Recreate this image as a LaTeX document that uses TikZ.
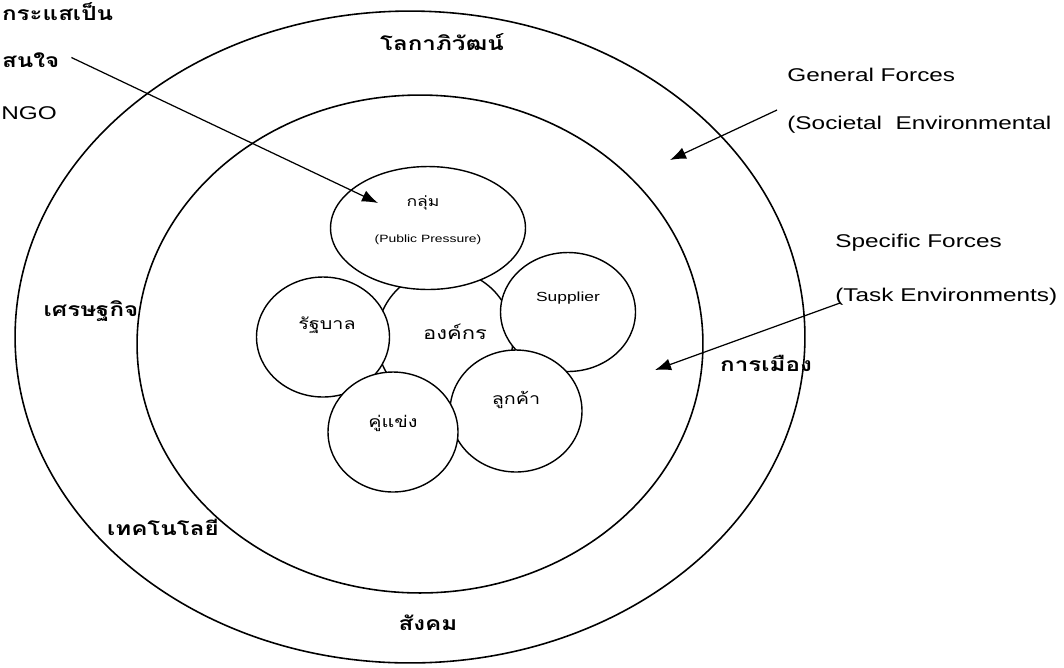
\documentclass[tikz,border=0pt]{standalone}
\usepackage{fontspec}
\setmainfont{Liberation Sans}[FakeStretch=1.32]
\newfontfamily\thaifont[Script=Thai, FakeStretch=1.25]{Loma}
\usetikzlibrary{shapes.geometric, arrows.meta, positioning}

\begin{document}
\begin{tikzpicture}[
  x=0.02cm, y=-0.02cm,
  ring/.style={ellipse, draw=black, line width=0.9pt, inner sep=0pt},
  party/.style={ellipse, draw=black, fill=white, line width=0.8pt, inner sep=0pt},
  force/.style={font=\thaifont\bfseries\fontsize{11}{13}\selectfont, inner sep=1pt},
  tag/.style={font=\thaifont\fontsize{9}{11}\selectfont, inner sep=1pt},
  note/.style={font=\fontsize{10.5}{12}\selectfont, anchor=west, inner sep=0pt},
  arrow/.style={draw, -{Latex[length=3.2mm, width=2.4mm]}, line width=0.7pt}
]
  \useasboundingbox (0,0) rectangle (1064,667);

  % environment rings
  \node [ring, minimum width=15.8cm, minimum height=13.04cm] (outer) at (410,337) {};
  \node [ring, minimum width=11.32cm, minimum height=9.96cm] (inner) at (420,344) {};

  % organisation and its stakeholders
  \node [party, minimum width=2.72cm, minimum height=2.72cm] (org) at (445,338) {};
  \node [party, minimum width=3.9cm, minimum height=2.46cm] (group) at (428,228) {};
  \node [party, minimum width=2.66cm, minimum height=2.4cm] (gov) at (323,337) {};
  \node [party, minimum width=2.7cm, minimum height=2.38cm] (supp) at (568,312) {};
  \node [party, minimum width=2.64cm, minimum height=2.44cm] (cust) at (516,411) {};
  \node [party, minimum width=2.6cm, minimum height=2.4cm] (comp) at (393,432) {};

  \node [tag, font=\thaifont\fontsize{8}{10}\selectfont] (grouplbl) at ([xshift=-0.1cm, yshift=0.5cm]group.center) {กลุ่ม};
  \node [font=\fontsize{6}{7}\selectfont, inner sep=0pt] (publbl) at ([yshift=-0.24cm]group.center) {(Public Pressure)};
  \node [tag] (govlbl) at ([xshift=0.08cm, yshift=0.24cm]gov.center) {รัฐบาล};
  \node [tag, font=\thaifont\fontsize{10}{12}\selectfont] (orglbl) at ([xshift=0.2cm, yshift=0.12cm]org.center) {องค์กร};
  \node [font=\fontsize{7.5}{9}\selectfont, inner sep=0pt] (supplbl) at ([yshift=0.28cm]supp.center) {Supplier};
  \node [tag] (custlbl) at ([yshift=0.22cm]cust.center) {ลูกค้า};
  \node [tag] (complbl) at ([yshift=0.18cm]comp.center) {คู่แข่ง};

  % forces in the rings
  \node [force] (glob) at (442,42) {โลกาภิวัฒน์};
  \node [force] (econ) at (91,311) {เศรษฐกิจ};
  \node [force] (poli) at (766,363) {การเมือง};
  \node [force] (tech) at (163,527) {เทคโนโลยี};
  \node [force] (soc) at (428,623) {สังคม};

  % notes
  \node [force, anchor=west] (trend) at (0,12) {กระแสเป็น};
  \node [force, anchor=west] (interest) at (0,60) {สนใจ};
  \node [note] (ngo) at (1,113) {NGO};
  \node [note] (general) at (787,75) {General Forces};
  \node [note] (societal) at (787,125) {(Societal\ \ Environmental};
  \node [note] (specific) at (835,243) {Specific Forces};
  \node [note] (task) at (835,297) {(Task Environments)};

  \coordinate (ngotip) at (378,203);
  \coordinate (gentip) at (670,160);
  \coordinate (tasktip) at (655,370);

  \draw [arrow] ([xshift=0.2cm, yshift=0.05cm]interest.east) -- (ngotip);
  \draw [arrow] ([xshift=-0.2cm, yshift=0.3cm]societal.west) -- (gentip);
  \draw [arrow] ([xshift=0.1cm, yshift=-0.12cm]task.west) -- (tasktip);
\end{tikzpicture}
\end{document}
